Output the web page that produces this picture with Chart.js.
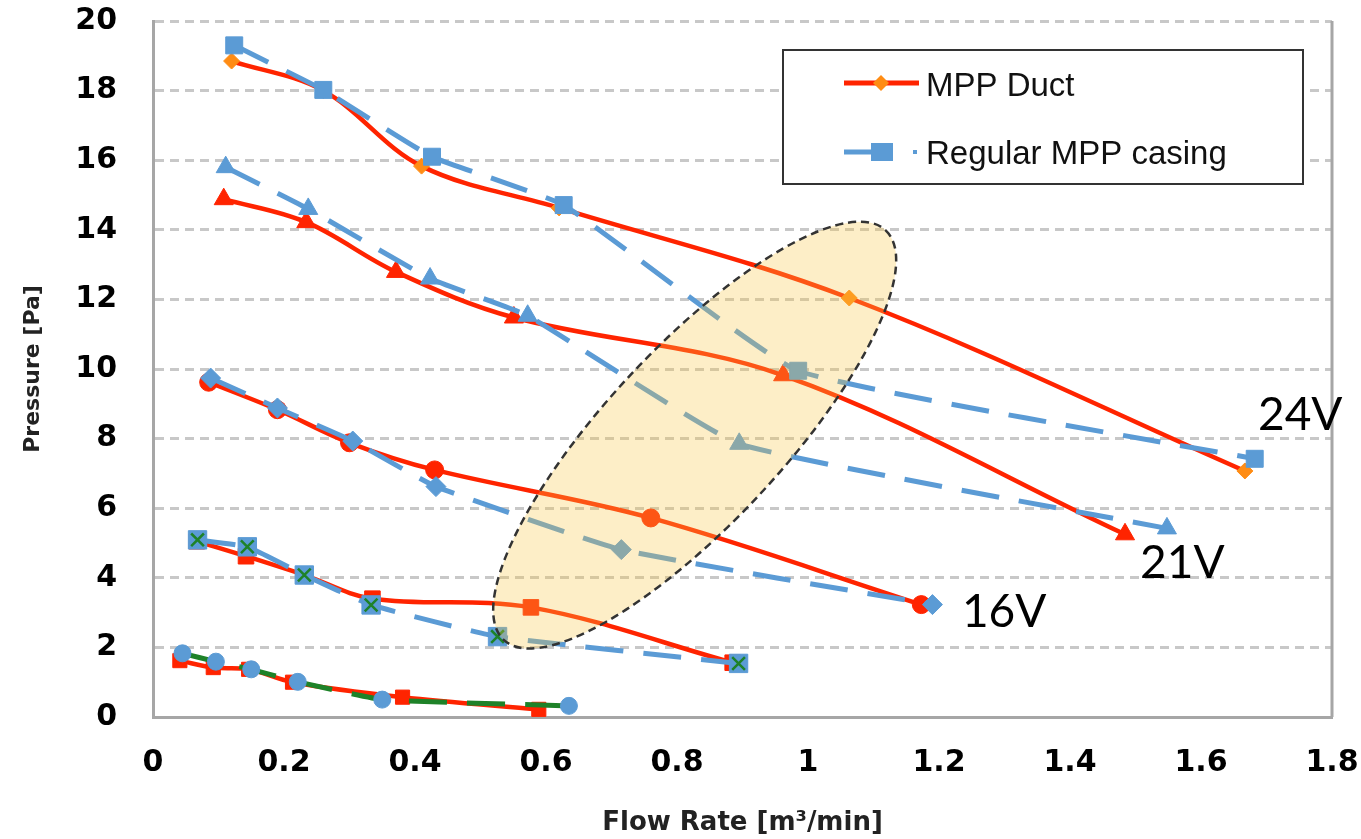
<!DOCTYPE html>
<html>
<head>
    <title>Pressure vs Flow Rate</title>
    <script src="https://cdn.jsdelivr.net/npm/chart.js"></script>
    <style>
        body { margin: 0; background: #fff; }
    </style>
</head>
<body>
    <canvas id="myChart" width="1361" height="839"></canvas>
    <script>
        // flow rate [m3/min] and pressure [Pa]
        var flow24Duct = [0.12, 0.26, 0.41, 0.62, 1.063, 1.667];
        var pres24Duct = [18.85, 18.0, 15.83, 14.63, 12.04, 7.07];
        var flow24Reg  = [0.124, 0.26, 0.426, 0.627, 0.985, 1.682];
        var pres24Reg  = [19.3, 18.02, 16.1, 14.71, 9.95, 7.42];

        var flow21Duct = [0.108, 0.234, 0.371, 0.551, 0.962, 1.484];
        var pres21Duct = [14.88, 14.22, 12.79, 11.48, 9.82, 5.25];
        var flow21Reg  = [0.111, 0.237, 0.423, 0.572, 0.895, 1.548];
        var pres21Reg  = [15.8, 14.6, 12.6, 11.53, 7.85, 5.42];

        var flow16Duct = [0.085, 0.19, 0.30, 0.43, 0.76, 1.173];
        var pres16Duct = [9.62, 8.83, 7.88, 7.1, 5.72, 3.23];
        var flow16Reg  = [0.088, 0.19, 0.305, 0.432, 0.715, 1.19];
        var pres16Reg  = [9.74, 8.88, 7.93, 6.62, 4.81, 3.23];

        var flow11Duct = [0.067, 0.142, 0.231, 0.335, 0.577, 0.885];
        var pres11Duct = [5.05, 4.62, 4.08, 3.40, 3.15, 1.56];
        var flow11Reg  = [0.068, 0.144, 0.231, 0.333, 0.526, 0.894];
        var pres11Reg  = [5.09, 4.89, 4.08, 3.22, 2.31, 1.54];

        var flow5Duct = [0.041, 0.092, 0.146, 0.213, 0.381, 0.589];
        var pres5Duct = [1.62, 1.42, 1.37, 1.0, 0.57, 0.22];
        var flow5Reg  = [0.045, 0.096, 0.150, 0.221, 0.350, 0.635];
        var pres5Reg  = [1.83, 1.59, 1.37, 1.01, 0.50, 0.32];

        var legendLabels = ['MPP Duct', 'Regular MPP casing'];
        var voltLabels = ['24V', '21V', '16V'];
        var voltLabelX = [1.687, 1.507, 1.235];
        var voltLabelY = [8.68, 4.43, 3.02];

        // shaded region (centre in data units, axes in px)
        var ellipse = { x: 0.827, y: 8.1, a: 280, b: 88, angle: -47 };

        var RED = 'rgb(255,36,0)';
        var ORANGE = 'rgb(255,140,20)';
        var BLUE = 'rgb(91,155,213)';
        var GREEN = 'rgb(30,130,40)';

        function pts(xs, ys) {
            return xs.map(function (x, i) { return { x: x, y: ys[i] }; });
        }

        function duct(xs, ys, style, r, fill) {
            return {
                data: pts(xs, ys), showLine: true, tension: 0.35,
                borderColor: RED, borderWidth: 4.5,
                pointStyle: style, pointRadius: r,
                pointBackgroundColor: fill || RED, pointBorderColor: fill || RED, pointBorderWidth: 1
            };
        }

        function regular(xs, ys, style, r, lineColor) {
            return {
                data: pts(xs, ys), showLine: true, tension: 0.12,
                borderColor: lineColor || BLUE, borderWidth: 5, borderDash: [38, 20],
                pointStyle: style, pointRadius: r,
                pointBackgroundColor: BLUE, pointBorderColor: BLUE, pointBorderWidth: 1
            };
        }

        var datasets = [
            { data: pts(flow11Reg, pres11Reg), showLine: false, pointStyle: 'crossRot', pointRadius: 9,
              pointBorderColor: GREEN, pointBackgroundColor: GREEN, pointBorderWidth: 2.5 },
            regular(flow24Reg, pres24Reg, 'rect', 12),
            regular(flow21Reg, pres21Reg, 'triangle', 11),
            regular(flow16Reg, pres16Reg, 'rectRot', 10),
            regular(flow11Reg, pres11Reg, 'rect', 13),
            regular(flow5Reg, pres5Reg, 'circle', 8.5, GREEN),
            duct(flow24Duct, pres24Duct, 'rectRot', 8, ORANGE),
            duct(flow21Duct, pres21Duct, 'triangle', 11),
            duct(flow16Duct, pres16Duct, 'circle', 9),
            duct(flow11Duct, pres11Duct, 'rect', 11),
            duct(flow5Duct, pres5Duct, 'rect', 10)
        ];

        var overlay = {
            id: 'overlay',
            beforeDatasetsDraw: function (chart) {
                var ctx = chart.ctx, a = chart.chartArea;
                ctx.save();
                ctx.strokeStyle = '#A6A6A6';
                ctx.lineWidth = 3;
                ctx.beginPath();
                ctx.moveTo(a.right, a.top);
                ctx.lineTo(a.right, a.bottom);
                ctx.stroke();
                ctx.restore();
            },
            afterDatasetsDraw: function (chart) {
                var ctx = chart.ctx, xs = chart.scales.x, ys = chart.scales.y;
                var cx = xs.getPixelForValue(ellipse.x), cy = ys.getPixelForValue(ellipse.y);
                ctx.save();
                ctx.beginPath();
                ctx.ellipse(cx, cy, ellipse.a, ellipse.b, ellipse.angle * Math.PI / 180, 0, Math.PI * 2);
                ctx.fillStyle = 'rgba(250,200,70,0.3)';
                ctx.fill();
                ctx.setLineDash([8, 5]);
                ctx.lineWidth = 2.5;
                ctx.strokeStyle = '#333';
                ctx.stroke();
                ctx.restore();

                // voltage labels
                ctx.save();
                ctx.font = '46px Lato';
                ctx.fillStyle = '#000';
                ctx.textBaseline = 'middle';
                ctx.textAlign = 'left';
                voltLabels.forEach(function (t, i) {
                    ctx.fillText(t, xs.getPixelForValue(voltLabelX[i]), ys.getPixelForValue(voltLabelY[i]));
                });
                ctx.restore();

                // legend box
                ctx.save();
                ctx.fillStyle = '#fff';
                ctx.fillRect(783, 50, 520, 134);
                ctx.strokeStyle = '#333';
                ctx.lineWidth = 2;
                ctx.strokeRect(783, 50, 520, 134);

                ctx.strokeStyle = RED;
                ctx.lineWidth = 5;
                ctx.beginPath(); ctx.moveTo(844, 83); ctx.lineTo(919, 83); ctx.stroke();
                ctx.fillStyle = ORANGE;
                ctx.beginPath();
                ctx.moveTo(881, 75); ctx.lineTo(889, 83); ctx.lineTo(881, 91); ctx.lineTo(873, 83);
                ctx.closePath(); ctx.fill();

                ctx.strokeStyle = BLUE;
                ctx.beginPath(); ctx.moveTo(844, 152); ctx.lineTo(874, 152); ctx.stroke();
                ctx.fillStyle = BLUE;
                ctx.fillRect(871, 143, 22, 18);
                ctx.fillRect(913, 150, 4, 4);

                ctx.fillStyle = '#111';
                ctx.font = '33px "Liberation Sans"';
                ctx.textBaseline = 'middle';
                ctx.fillText(legendLabels[0], 926, 87);
                ctx.fillText(legendLabels[1], 926, 155);
                ctx.restore();
            }
        };

        var tickFont = { family: 'DejaVu Sans', weight: 'bold', size: 30 };
        function fmt(v) { return String(Math.round(v * 10) / 10); }

        var ctx = document.getElementById('myChart').getContext('2d');
        var chart = new Chart(ctx, {
            type: 'scatter',
            data: { datasets: datasets },
            options: {
                responsive: false,
                animation: false,
                devicePixelRatio: 1,
                layout: { padding: { left: 0, right: 29, top: 21, bottom: 0 } },
                plugins: { legend: { display: false }, tooltip: { enabled: false } },
                scales: {
                    x: {
                        type: 'linear', min: 0, max: 1.8,
                        ticks: { stepSize: 0.2, color: '#000', font: tickFont, padding: 28, callback: fmt },
                        grid: { display: false, drawTicks: false },
                        border: { display: true, color: '#A6A6A6', width: 3 },
                        title: { display: true, text: 'Flow Rate [m³/min]', color: '#222',
                                 font: { family: 'DejaVu Sans', weight: 'bold', size: 26 },
                                 padding: { top: 0, bottom: 0 } },
                        afterFit: function (s) {
                            s.height = 122;
                            s.paddingLeft = 0; s.paddingRight = 0;
                        }
                    },
                    y: {
                        type: 'linear', min: 0, max: 20,
                        ticks: { stepSize: 2, color: '#000', font: tickFont, padding: 36, callback: fmt },
                        grid: { color: '#C8C8C8', lineWidth: 3, drawTicks: false },
                        border: { display: true, color: '#A6A6A6', width: 3, dash: [9, 6] },
                        title: { display: true, text: 'Pressure [Pa]', color: '#222',
                                 font: { family: 'DejaVu Sans', weight: 'bold', size: 22 },
                                 padding: { top: 20, bottom: 0 } },
                        afterFit: function (s) {
                            s.width = 153;
                            s.paddingTop = 0; s.paddingBottom = 0;
                        }
                    }
                }
            },
            plugins: [overlay]
        });
    </script>
</body>
</html>
